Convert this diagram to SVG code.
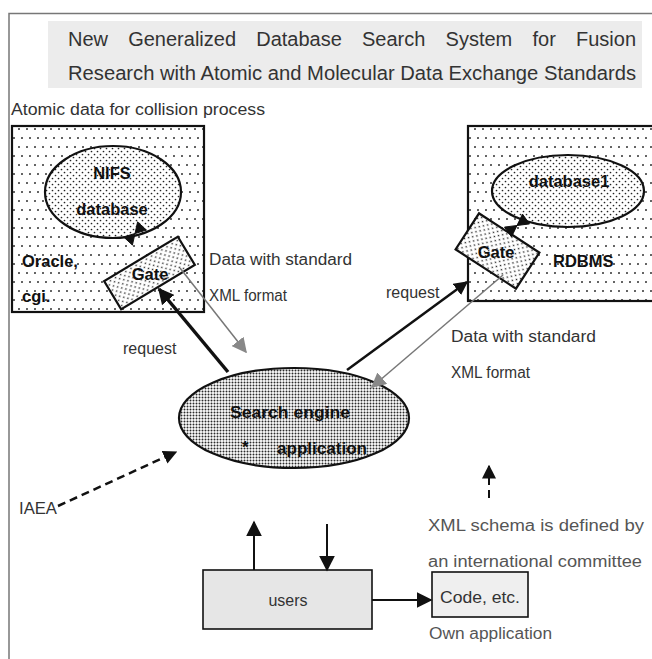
<svg xmlns="http://www.w3.org/2000/svg" width="652" height="659" viewBox="0 0 652 659">
  <style>
    .lbl { font-family: "Liberation Sans", Arial, sans-serif; font-size: 16px; fill: #333; }
    .lbl2 { font-family: "Liberation Sans", Arial, sans-serif; font-size: 16px; fill: #555; }
    .bold { font-family: "Liberation Sans", Arial, sans-serif; font-size: 16.5px; font-weight: bold; fill: #111; }
    .title { font-family: "Liberation Sans", Arial, sans-serif; font-size: 20px; fill: #333; }
    .frame { fill: none; stroke: #777; stroke-width: 1.5; }
    .box { stroke: #111; stroke-width: 2.2; }
    .thin { stroke: #111; stroke-width: 1.6; }
  </style>
  <defs>
    <pattern id="dotsSparse" width="16" height="18" patternUnits="userSpaceOnUse">
      <rect width="16" height="18" fill="#fff"/>
      <circle cx="3" cy="3" r="0.95" fill="#222"/>
      <circle cx="11" cy="3" r="0.95" fill="#222"/>
      <circle cx="6" cy="12" r="0.95" fill="#222"/>
      <circle cx="14" cy="12" r="0.95" fill="#222"/>
    </pattern>
    <pattern id="dotsMedium" width="6" height="6" patternUnits="userSpaceOnUse">
      <rect width="6" height="6" fill="#fff"/>
      <circle cx="1.5" cy="1.5" r="0.85" fill="#222"/>
      <circle cx="4.5" cy="4.5" r="0.85" fill="#222"/>
    </pattern>
    <pattern id="dotsDense" width="3" height="3" patternUnits="userSpaceOnUse">
      <rect width="3" height="3" fill="#fff"/>
      <circle cx="1.5" cy="1.5" r="1.0" fill="#2a2a2a"/>
    </pattern>
    <marker id="arrBlack" viewBox="0 0 10 10" refX="9" refY="5" markerWidth="14" markerHeight="14" markerUnits="userSpaceOnUse" orient="auto">
      <path d="M0,0 L10,5 L0,10 z" fill="#111"/>
    </marker>
    <marker id="arrBig" viewBox="0 0 10 10" refX="9" refY="5" markerWidth="16" markerHeight="16" markerUnits="userSpaceOnUse" orient="auto">
      <path d="M0,0 L10,5 L0,10 z" fill="#111"/>
    </marker>
    <marker id="arrGrey" viewBox="0 0 10 10" refX="9" refY="5" markerWidth="15" markerHeight="15" markerUnits="userSpaceOnUse" orient="auto">
      <path d="M0,0 L10,5 L0,10 z" fill="#888"/>
    </marker>
  </defs>

  <!-- page frame -->
  <path class="frame" d="M9,659 L9,13.5 L652,13.5"/>

  <!-- title band, first line fully justified word by word -->
  <g id="title">
    <rect x="48" y="21" width="594" height="67" fill="#ececec"/>
    <text class="title" y="46">
      <tspan x="68">New</tspan>
      <tspan x="128.2">Generalized</tspan>
      <tspan x="256.2">Database</tspan>
      <tspan x="362">Search</tspan>
      <tspan x="445.6">System</tspan>
      <tspan x="532.5">for</tspan>
      <tspan x="576">Fusion</tspan>
    </text>
    <text class="title" x="68" y="80" textLength="568" lengthAdjust="spacingAndGlyphs">Research with Atomic and Molecular Data Exchange Standards</text>
  </g>

  <text class="lbl" x="11" y="115" textLength="254" lengthAdjust="spacingAndGlyphs">Atomic data for collision process</text>

  <!-- left site: NIFS -->
  <g id="nifs-site">
    <rect class="box" x="12" y="126" width="192" height="186" fill="url(#dotsSparse)"/>
    <text class="bold" x="22" y="267">Oracle,</text>
    <text class="bold" x="22" y="302">cgi.</text>
  </g>
  <g id="nifs-db">
    <ellipse class="box" cx="113" cy="192" rx="68" ry="46" fill="url(#dotsMedium)"/>
    <text class="bold" x="112" y="179" text-anchor="middle">NIFS</text>
    <text class="bold" x="112" y="215" text-anchor="middle">database</text>
  </g>
  <g id="nifs-gate">
    <rect class="box" x="-43" y="-16.5" width="86" height="33" fill="url(#dotsMedium)" transform="translate(149.5,273) rotate(-31)"/>
    <text class="bold" x="150" y="280" text-anchor="middle">Gate</text>
  </g>

  <!-- right site: RDBMS -->
  <g id="rdbms-site">
    <rect class="box" x="468" y="126" width="190" height="175" fill="url(#dotsSparse)"/>
    <text class="bold" x="553" y="267">RDBMS</text>
  </g>
  <g id="database1">
    <ellipse class="box" cx="568" cy="191" rx="76" ry="36" fill="url(#dotsMedium)"/>
    <text class="bold" x="569" y="187" text-anchor="middle">database1</text>
  </g>
  <g id="rdbms-gate">
    <rect class="box" x="-36" y="-21.5" width="72" height="43" fill="url(#dotsMedium)" transform="translate(497.5,251) rotate(33)"/>
    <text class="bold" x="496" y="258" text-anchor="middle">Gate</text>
  </g>

  <!-- search engine -->
  <g id="search-engine">
    <ellipse class="box" cx="294" cy="418" rx="115" ry="50" fill="url(#dotsDense)"/>
    <text class="bold" x="230" y="418" font-size="17" fill="#222" textLength="120" lengthAdjust="spacingAndGlyphs">Search engine</text>
    <text class="bold" x="242" y="453" fill="#888" font-size="13">*</text>
    <text class="bold" x="277" y="454" fill="#999" font-size="17" textLength="90" lengthAdjust="spacingAndGlyphs">application</text>
  </g>

  <!-- users and own code -->
  <g id="users">
    <rect class="thin" x="203" y="570" width="169" height="59" fill="#e6e6e6"/>
    <text class="lbl" x="288" y="606" text-anchor="middle" font-size="17">users</text>
  </g>
  <g id="code">
    <rect class="thin" x="432" y="572" width="96" height="45" fill="#efefef"/>
    <text class="lbl" x="440" y="603" textLength="80" lengthAdjust="spacingAndGlyphs">Code, etc.</text>
  </g>

  <!-- free labels -->
  <text class="lbl" x="209" y="265" textLength="143" lengthAdjust="spacingAndGlyphs">Data with standard</text>
  <text class="lbl" x="209" y="301" textLength="78" lengthAdjust="spacingAndGlyphs">XML format</text>
  <text class="lbl" x="123" y="354">request</text>
  <text class="lbl" x="386" y="298">request</text>
  <text class="lbl" x="451" y="342" textLength="145" lengthAdjust="spacingAndGlyphs">Data with standard</text>
  <text class="lbl" x="451" y="378" textLength="79" lengthAdjust="spacingAndGlyphs">XML format</text>
  <text class="lbl" x="19" y="514" textLength="38" lengthAdjust="spacingAndGlyphs">IAEA</text>
  <text class="lbl2" x="428" y="531" textLength="216" lengthAdjust="spacingAndGlyphs">XML schema is defined by</text>
  <text class="lbl2" x="428" y="567" textLength="214" lengthAdjust="spacingAndGlyphs">an international committee</text>
  <text class="lbl2" x="429" y="639" textLength="123" lengthAdjust="spacingAndGlyphs">Own application</text>

  <!-- connectors -->
  <g id="connectors" fill="none">
    <!-- requests -->
    <line x1="228" y1="372" x2="159" y2="289" stroke="#111" stroke-width="3.5" marker-end="url(#arrBig)"/>
    <line x1="347" y1="370" x2="467" y2="282" stroke="#111" stroke-width="2.5" marker-end="url(#arrBlack)"/>
    <!-- XML data replies -->
    <line x1="180" y1="268" x2="246" y2="352" stroke="#777" stroke-width="1.5" marker-end="url(#arrGrey)"/>
    <line x1="503" y1="275" x2="372" y2="387" stroke="#777" stroke-width="1.5" marker-end="url(#arrGrey)"/>
    <!-- gate to database links -->
    <path d="M132.4,245.1 L123.6,236.9 L135,233.5 Z M137.6,221.9 L146.4,230.1 L135,233.5 Z" fill="#111" stroke="#111" stroke-width="1"/>
    <path d="M511.5,236.9 L504.5,227.1 L517,225.5 Z M522.5,214.1 L529.5,223.9 L517,225.5 Z" fill="#111" stroke="#111" stroke-width="1"/>
    <!-- IAEA schema -->
    <line x1="58" y1="506" x2="176" y2="452" stroke="#111" stroke-width="2.5" stroke-dasharray="8,5" marker-end="url(#arrBlack)"/>
    <line x1="489" y1="498" x2="489" y2="466" stroke="#111" stroke-width="2" stroke-dasharray="8,5" marker-end="url(#arrBlack)"/>
    <!-- users and search engine -->
    <line x1="254" y1="570" x2="254" y2="522" stroke="#111" stroke-width="2" marker-end="url(#arrBig)"/>
    <line x1="327" y1="524" x2="327" y2="570" stroke="#111" stroke-width="2" marker-end="url(#arrBig)"/>
    <line x1="372" y1="600" x2="431" y2="600" stroke="#111" stroke-width="2" marker-end="url(#arrBig)"/>
  </g>
</svg>
